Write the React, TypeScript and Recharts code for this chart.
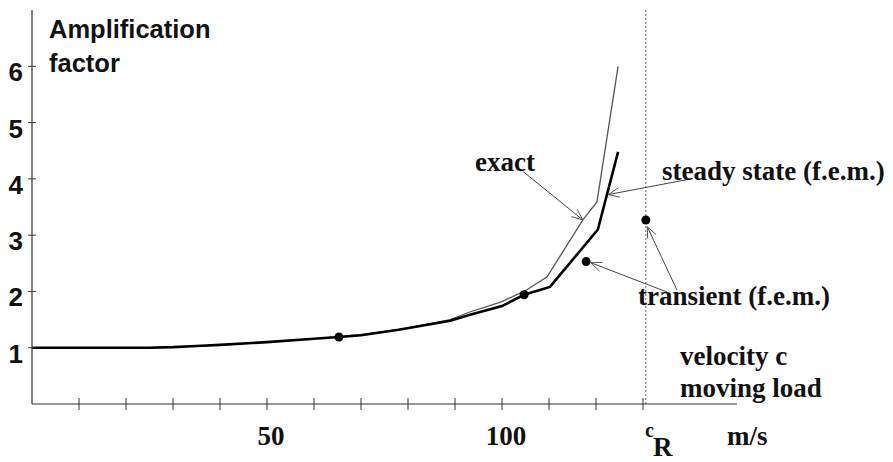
import React from "react";
import {
  ComposedChart,
  Line,
  Scatter,
  XAxis,
  YAxis,
  ReferenceLine,
} from "recharts";

// velocity (m/s) vs amplification factor
const exactV = [0, 25, 30, 35, 40, 50, 60, 70, 78, 89, 93, 100, 105.3, 109.6, 117.2, 120.2, 124.7];
const exactA = [1, 1, 1.01, 1.03, 1.05, 1.1, 1.16, 1.23, 1.32, 1.5, 1.63, 1.82, 2.03, 2.26, 3.27, 3.59, 6.0];

const steadyV = [0, 25, 30, 35, 40, 50, 60, 65.3, 70, 78, 89, 93, 100, 104.7, 110.2, 120.4, 124.7];
const steadyA = [1, 1, 1.01, 1.03, 1.05, 1.1, 1.16, 1.19, 1.22, 1.32, 1.48, 1.58, 1.74, 1.94, 2.08, 3.1, 4.48];

const transientV = [65.3, 104.7, 117.9, 130.6];
const transientA = [1.19, 1.94, 2.53, 3.27];

const rayleighV = 130.6;

const xTicks = [10, 20, 30, 40, 50, 60, 70, 80, 90, 100, 110, 120, 130];
const xTickLabels: Record<number, string> = { 50: "50", 100: "100" };
const yTicks = [1, 2, 3, 4, 5, 6];

// leader lines from the labels to the curves: [fromV, fromA, toV, toA]
const arrows = [
  [104.5, 4.13, 117.2, 3.27],
  [139.6, 3.99, 122.6, 3.72],
  [135.1, 1.99, 118.9, 2.51],
  [137.2, 2.03, 130.9, 3.15],
];

const zip = (vs: number[], as: number[]) => vs.map((v, i) => ({ v, a: as[i] }));

const SERIF = '"Liberation Serif", "DejaVu Serif", "Times New Roman", serif';
const SANS = '"Liberation Sans", Arial, sans-serif';

const serifStyle = { fontFamily: SERIF, fontWeight: 700 };
const sansStyle = { fontFamily: SANS, fontWeight: 700 };

function YTick(props: any) {
  const { x, y, payload } = props;
  return (
    <g>
      <line x1={x - 4} x2={x + 4} y1={y} y2={y} stroke="#333" strokeWidth={1} />
      <text x={x - 9} y={y + 15} textAnchor="end" style={sansStyle} fontSize={26} fill="#111">
        {payload.value}
      </text>
    </g>
  );
}

function XTick(props: any) {
  const { x, y, payload } = props;
  const label = xTickLabels[payload.value];
  return (
    <g>
      <line x1={x} x2={x} y1={y - 6} y2={y + 6} stroke="#333" strokeWidth={1} />
      {label && (
        <text x={x + 4} y={y + 41} textAnchor="middle" style={serifStyle} fontSize={27} fill="#111">
          {label}
        </text>
      )}
      {payload.value === 130 && (
        <text x={x + 2} y={y + 33} style={serifStyle} fontSize={20} fill="#111">
          c
          <tspan x={x + 10} y={y + 52} fontSize={27}>R</tspan>
        </text>
      )}
    </g>
  );
}

function Arrow(props: any) {
  const { x1, y1, x2, y2 } = props;
  const ang = Math.atan2(y2 - y1, x2 - x1);
  const len = 12;
  const spread = 0.4;
  const ax = x2 - len * Math.cos(ang - spread);
  const ay = y2 - len * Math.sin(ang - spread);
  const bx = x2 - len * Math.cos(ang + spread);
  const by = y2 - len * Math.sin(ang + spread);
  return (
    <g>
      <line x1={x1} y1={y1} x2={x2} y2={y2} stroke="#444" strokeWidth={1} />
      <polyline points={`${ax},${ay} ${x2},${y2} ${bx},${by}`} fill="none" stroke="#555" strokeWidth={1} />
    </g>
  );
}

export default function App() {
  const exact = zip(exactV, exactA);
  const steady = zip(steadyV, steadyA);
  const transient = zip(transientV, transientA);

  const txt = { style: serifStyle, fontSize: 27, fill: "#111" };

  return (
    <div style={{ position: "absolute", left: 0, top: 0, width: 893, height: 462, background: "#fff" }}>
      <ComposedChart width={893} height={462} margin={{ top: 10, right: 156, left: 0, bottom: 0 }}>
        <XAxis
          type="number"
          dataKey="v"
          domain={[0, 150]}
          ticks={xTicks}
          tick={<XTick />}
          tickSize={0}
          tickMargin={0}
          tickLine={false}
          height={58}
          axisLine={{ stroke: "#333", strokeWidth: 1.2 }}
          allowDataOverflow
        />
        <YAxis
          type="number"
          domain={[0, 7]}
          ticks={yTicks}
          tick={<YTick />}
          tickSize={0}
          tickMargin={0}
          tickLine={false}
          width={32}
          axisLine={{ stroke: "#333", strokeWidth: 1.2 }}
          allowDataOverflow
        />
        <ReferenceLine x={rayleighV} stroke="#666" strokeDasharray="2 2" strokeWidth={1} />
        <Line
          data={exact}
          dataKey="a"
          type="linear"
          stroke="#555"
          strokeWidth={1.3}
          dot={false}
          isAnimationActive={false}
        />
        <Line
          data={steady}
          dataKey="a"
          type="linear"
          stroke="#000"
          strokeWidth={2.6}
          dot={false}
          isAnimationActive={false}
        />
        <Scatter
          data={transient}
          dataKey="a"
          fill="#000"
          isAnimationActive={false}
          shape={(p: any) => <circle cx={p.cx} cy={p.cy} r={4.5} fill="#000" />}
        />
        {arrows.map((s, i) => (
          <ReferenceLine
            key={i}
            segment={[
              { x: s[0], y: s[1] },
              { x: s[2], y: s[3] },
            ]}
            ifOverflow="visible"
            shape={<Arrow />}
          />
        ))}
      </ComposedChart>
      <svg
        width={893}
        height={462}
        style={{ position: "absolute", left: 0, top: 0, pointerEvents: "none" }}
      >
        <text x={49} y={38} style={sansStyle} fontSize={25.5} fill="#111">
          Amplification
        </text>
        <text x={49} y={72} style={sansStyle} fontSize={25.5} fill="#111">
          factor
        </text>
        <text x={475} y={171} {...txt}>exact</text>
        <text x={662} y={180} {...txt}>steady state (f.e.m.)</text>
        <text x={638} y={305} {...txt}>transient (f.e.m.)</text>
        <text x={680} y={365} {...txt}>velocity c</text>
        <text x={680} y={397} {...txt}>moving load</text>
        <text x={727} y={445} {...txt}>m/s</text>
      </svg>
    </div>
  );
}
